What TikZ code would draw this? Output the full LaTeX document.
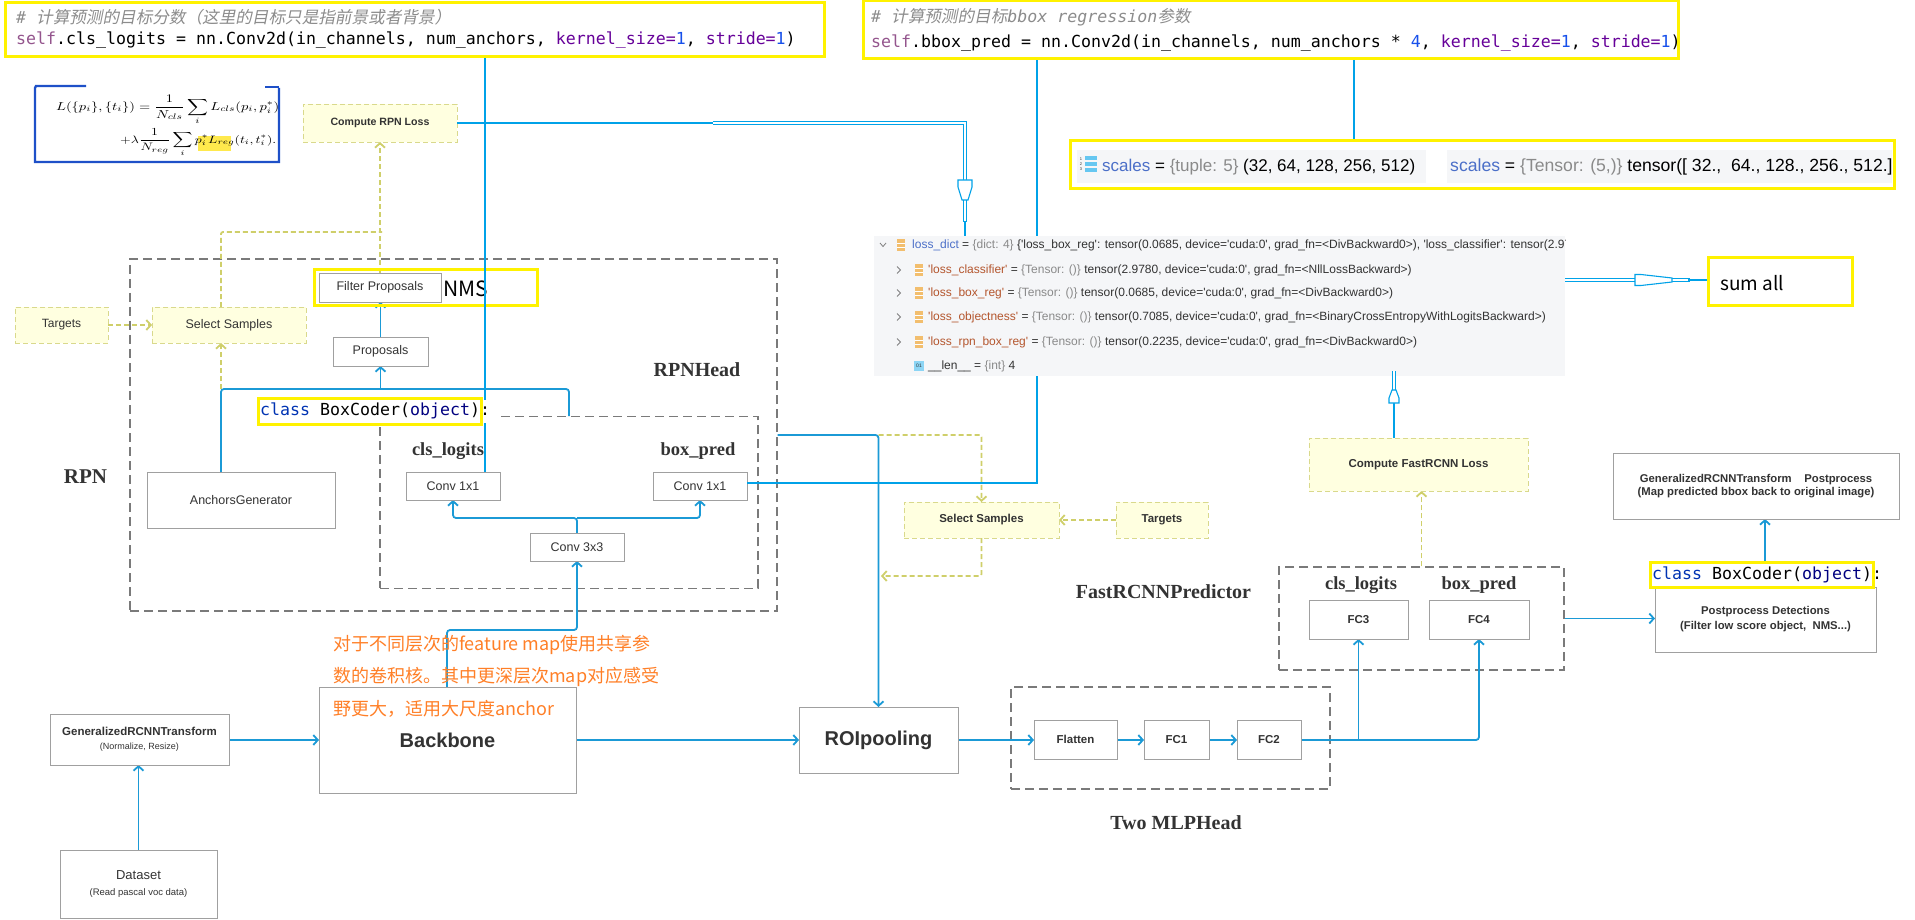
\documentclass[tikz,border=0pt]{standalone}
\usepackage{fontspec}
\setmainfont{Liberation Serif}
\setsansfont{Liberation Sans}
\setmonofont{DejaVu Sans Mono}
\newfontfamily\cjk{Noto Sans CJK SC}
\newfontfamily\cjkit{Noto Sans CJK SC}[FakeSlant=0.2]
\usetikzlibrary{arrows.meta}
\definecolor{pblue}{HTML}{00A2E8}
\definecolor{dblue}{HTML}{1B9AD6}
\definecolor{fblue}{HTML}{1E50C8}
\definecolor{pyel}{HTML}{FFF200}
\definecolor{oliveA}{HTML}{CFCF6A}
\definecolor{oliveB}{HTML}{D9D98C}
\definecolor{lyel}{HTML}{FFFFE0}
\definecolor{boxgray}{HTML}{A0A0A0}
\definecolor{dashgray}{HTML}{7A7A7A}
\definecolor{txt}{HTML}{333333}
\definecolor{orangeT}{HTML}{FF7F27}
\definecolor{cself}{HTML}{94558D}
\definecolor{ckw}{HTML}{660099}
\definecolor{cnum}{HTML}{1750EB}
\definecolor{ccom}{HTML}{8C8C8C}
\definecolor{ckey}{HTML}{0033B3}
\definecolor{cobj}{HTML}{000080}
\definecolor{vblue}{HTML}{4B6FC8}
\definecolor{gtxt}{HTML}{8A8A8A}
\definecolor{keyc}{HTML}{B4562E}
\definecolor{panel}{HTML}{F5F6F8}
\definecolor{iconc}{HTML}{F2BE6E}
\definecolor{hlyel}{HTML}{FFE94D}
\newcommand\q{\textquotesingle}
\newcommand\gt[1]{{\color{gtxt}#1}}
\newcommand\kt[1]{{\color{keyc}#1}}
\tikzset{
  blk/.style={draw=boxgray, line width=0.9pt, fill=white, text=txt, inner sep=0pt, align=center, font=\sffamily\fontsize{12.5}{15}\selectfont},
  blkb/.style={blk, font=\sffamily\bfseries\fontsize{11.5}{14}\selectfont},
  ybox/.style={draw=oliveB, dash pattern=on 5pt off 3pt, line width=0.9pt, fill=lyel, text=txt, inner sep=0pt, align=center},
  grp/.style={draw=dashgray, line width=1.3pt, dash pattern=on 9pt off 5pt, inner sep=0pt},
  conn/.style={draw=dblue, line width=1.8pt, rounded corners=3pt},
  arr/.style={conn, -{Straight Barb[length=4.5pt,width=10pt]}},
  oconn/.style={draw=oliveA, line width=1.8pt, dash pattern=on 5pt off 3pt, rounded corners=2pt},
  oarr/.style={oconn, -{Straight Barb[length=4.5pt,width=10pt]}},
  paint/.style={draw=pblue, line width=2.6pt},
  hl/.style={draw=pyel, line width=3pt, inner sep=0pt},
  lbl/.style={font=\rmfamily\bfseries\fontsize{20}{22}\selectfont, text=txt, inner sep=0pt},
  code/.style={font=\ttfamily\fontsize{16.6}{18}\selectfont, text=black, inner sep=0pt, anchor=west},
  row/.style={font=\sffamily\fontsize{12}{13}\selectfont, text=txt, inner sep=0pt, anchor=west},
  sc/.style={font=\sffamily\fontsize{17}{19}\selectfont, text=black, inner sep=0pt, anchor=west},
  dbl/.style={draw=pblue, line width=1.1pt, double=white, double distance=2.2pt},
  bulge/.style={draw=pblue, line width=1.1pt, fill=white},
  otxt/.style={font=\cjk\fontsize{18}{20}\selectfont, text=orangeT, inner sep=0pt, anchor=west},
}
\begin{document}
\begin{tikzpicture}[x=1pt,y=-1pt]
\fill[white] (0,0) rectangle (1915,920);
\useasboundingbox (0,0) rectangle (1915,920);

% ---------- group boxes ----------
\node[grp, minimum width=647pt, minimum height=352pt] (rpnbox) at (453.5,435) {};
\node[grp, minimum width=378pt, minimum height=171.5pt] (rpnhead) at (569,502.5) {};
\node[grp, minimum width=319pt, minimum height=102pt] (mlpbox) at (1170.5,738) {};
\node[grp, minimum width=285pt, minimum height=103pt] (predbox) at (1421.5,618.5) {};

% ---------- labels ----------
\node[lbl, font=\rmfamily\bfseries\fontsize{21}{23}\selectfont] (lrpn) at (85.5,477) {RPN};
\node[lbl] (lrpnhead) at (697,370) {RPNHead};
\node[lbl, font=\rmfamily\bfseries\fontsize{18.5}{20}\selectfont] (lcls1) at (448,451) {cls\_logits};
\node[lbl, font=\rmfamily\bfseries\fontsize{18.5}{20}\selectfont] (lbox1) at (698,451) {box\_pred};
\node[lbl] (lpred) at (1163.5,592) {FastRCNNPredictor};
\node[lbl] (lmlp) at (1176,823) {Two MLPHead};
\node[lbl, font=\rmfamily\bfseries\fontsize{18.5}{20}\selectfont] (lcls2) at (1361,585) {cls\_logits};
\node[lbl, font=\rmfamily\bfseries\fontsize{18.5}{20}\selectfont] (lbox2) at (1479,585) {box\_pred};

% ---------- diagram connectors ----------
\coordinate (aj) at (221,389);
\draw[conn] (221,0 |- 0,472) -- (aj) -- (569,389) -- (rpnhead.north);
\draw[arr] (380.5,389) -- (380.5,366);
\draw[arr] (380.5,337) -- (380.5,302);
\draw[oarr] (aj) -- (221,343);
\draw[oconn] (221,307) -- (221,232) -- (382,232);
\draw[oarr] (380,273) -- (380,142);
\draw[oarr] (108,325) -- (152,325);

\draw[arr] (447,687) -- (447,630) -- (577,630) -- (577,561);
\draw[arr] (577,533) -- (577,518) -- (453,518) -- (453,500);
\draw[arr] (577,518) -- (700,518) -- (700,500);

\draw[arr] (rpnbox.east) -- (878.5,435) -- (878.5,707);
\draw[oarr] (878.5,435) -- (981.5,435) -- (981.5,502);
\draw[oarr] (981.5,538) -- (981.5,576) -- (881,576);
\draw[oarr] (1116,520) -- (1059,520);

\draw[arr] (138.5,850) -- (138.5,765);
\draw[arr] (229,740) -- (319,740);
\draw[arr] (576,740) -- (799,740);
\draw[arr] (958,740) -- (1034,740);
\draw[arr] (1117,740) -- (1144,740);
\draw[arr] (1209,740) -- (1237,740);
\draw[arr] (1301,740) -- (1479,740) -- (1479,639);
\draw[arr] (1358.5,740) -- (1358.5,639);
\draw[arr] (predbox.east) -- (1655,618.5);
\draw[oarr] (predbox.north) -- (1421.5,491);
\draw[arr] (1765,562) -- (1765,519);

% ---------- nodes ----------
\node[ybox, font=\sffamily\bfseries\fontsize{10.6}{12}\selectfont, minimum width=154pt, minimum height=38pt] (rpnloss) at (380,123) {Compute RPN Loss};
\node[ybox, font=\sffamily\fontsize{12}{14}\selectfont, minimum width=93pt, minimum height=36pt] (targets1) at (61.5,325) {Targets};
\node[ybox, font=\sffamily\fontsize{12.5}{14}\selectfont, minimum width=154pt, minimum height=36pt] (sel1) at (229,325) {Select Samples};
\node[hl, minimum width=223pt, minimum height=35pt] (nms) at (425.5,287.5) {};
\node[blk, minimum width=122pt, minimum height=29pt] (filter) at (380,287.5) {Filter Proposals};
\node[inner sep=0pt, anchor=west, font=\cjk\fontsize{21}{23}\selectfont, text=black] (nmstxt) at (443,289) {NMS};
\node[blk, minimum width=95pt, minimum height=29pt] (props) at (380.5,351.5) {Proposals};
\node[blk, minimum width=188pt, minimum height=56pt] (anchors) at (241,500.2) {AnchorsGenerator};
\node[blk, minimum width=94pt, minimum height=28pt] (conv1) at (453,486) {Conv 1x1};
\node[blk, minimum width=94pt, minimum height=28pt] (conv2) at (700,486) {Conv 1x1};
\node[blk, minimum width=94pt, minimum height=28pt] (conv3) at (577,547) {Conv 3x3};
\node[blk, minimum width=257pt, minimum height=106pt, font=\sffamily\bfseries\fontsize{20}{22}\selectfont] (backbone) at (447.5,740) {Backbone};
\node[blk, minimum width=179pt, minimum height=51pt] (transform) at (139.5,739.5) {{\bfseries\fontsize{11.5}{13}\selectfont GeneralizedRCNNTransform}\\[-1pt]{\fontsize{9}{11}\selectfont (Normalize, Resize)}};
\node[blk, minimum width=157pt, minimum height=68pt] (dataset) at (138.5,884) {{\fontsize{13}{15}\selectfont Dataset}\\[1pt]{\fontsize{9.5}{11}\selectfont (Read pascal voc data)}};
\node[blk, minimum width=159pt, minimum height=66pt, font=\sffamily\bfseries\fontsize{20}{22}\selectfont] (roi) at (878.5,740) {ROIpooling};
\node[blkb, minimum width=83pt, minimum height=39pt] (flatten) at (1075.5,739.5) {Flatten};
\node[blkb, minimum width=65pt, minimum height=39pt] (fc1) at (1176.5,739.5) {FC1};
\node[blkb, minimum width=64pt, minimum height=39pt] (fc2) at (1269,739.5) {FC2};
\node[blkb, minimum width=99pt, minimum height=39pt] (fc3) at (1358.5,619.5) {FC3};
\node[blkb, minimum width=100pt, minimum height=39pt] (fc4) at (1479,619.5) {FC4};
\node[ybox, font=\sffamily\bfseries\fontsize{11.5}{13}\selectfont, minimum width=219pt, minimum height=53pt] (fastloss) at (1418.5,464.5) {Compute FastRCNN Loss};
\node[ybox, font=\sffamily\bfseries\fontsize{11.5}{13}\selectfont, minimum width=155pt, minimum height=36pt] (sel2) at (981.5,520) {Select Samples};
\node[ybox, font=\sffamily\bfseries\fontsize{11.5}{13}\selectfont, minimum width=92pt, minimum height=36pt] (targets2) at (1162,520) {Targets};
\node[blk, minimum width=221pt, minimum height=65pt, font=\sffamily\bfseries\fontsize{11.3}{15}\selectfont] (postdet) at (1765.5,619.5) {Postprocess Detections\\(Filter low score object,\ \ NMS...)};
\node[blk, minimum width=286pt, minimum height=66pt, font=\sffamily\bfseries\fontsize{11.3}{13.5}\selectfont] (transpost) at (1756,486) {GeneralizedRCNNTransform\ \ \ \ Postprocess\\(Map predicted bbox back to original image)};

% BoxCoder boxes
\node[hl, fill=white, minimum width=223pt, minimum height=26pt] (bc1) at (369.5,411) {};
\node[hl, fill=white, minimum width=223pt, minimum height=25pt] (bc2) at (1761.5,574.5) {};
\node[code] (bc2t) at (1652,575) {{\color{ckey}class} BoxCoder({\color{cobj}object}):};

% orange note
\node[otxt] (o1) at (333,645) {对于不同层次的feature map使用共享参};
\node[otxt] (o2) at (333,677) {数的卷积核。其中更深层次map对应感受};
\node[otxt] (o3) at (333,709) {野更大，适用大尺度anchor};

% ---------- code boxes ----------
\node[hl, fill=white, minimum width=819pt, minimum height=54pt] (codeL) at (414.5,30) {};
\node[code, text=ccom] (cl1) at (16,17) {{\itshape\#} {\cjkit 计算预测的目标分数（这里的目标只是指前景或者背景）}};
\node[code] (cl2) at (16,40) {{\color{cself}self}.cls\_logits = nn.Conv2d(in\_channels, num\_anchors, {\color{ckw}kernel\_size=}{\color{cnum}1}, {\color{ckw}stride=}{\color{cnum}1})};
\node[hl, fill=white, minimum width=815pt, minimum height=58pt] (codeR) at (1270.5,30) {};
\node[code, text=ccom] (cr1) at (871,17) {{\itshape\#} {\cjkit 计算预测的目标}{\itshape bbox regression}{\cjkit 参数}};
\node[code] (cr2) at (871,43) {{\color{cself}self}.bbox\_pred = nn.Conv2d(in\_channels, num\_anchors * {\color{cnum}4}, {\color{ckw}kernel\_size=}{\color{cnum}1}, {\color{ckw}stride=}{\color{cnum}1})};

% formula
\fill[hlyel] (198,136) rectangle (231,151);
\node[inner sep=0pt, anchor=west] (f1) at (56,110) {\resizebox*{223pt}{30pt}{$\displaystyle L(\{p_i\},\{t_i\})=\frac{1}{N_{cls}}\sum_i L_{cls}(p_i,p_i^*)$}};
\node[inner sep=0pt, anchor=west] (f2) at (120,143) {\resizebox*{156pt}{28pt}{$\displaystyle +\lambda\frac{1}{N_{reg}}\sum_i p_i^* L_{reg}(t_i,t_i^*).$}};
\draw[fblue, line width=2.4pt] (86,86) -- (36,86) -- (35,88) -- (35,162) -- (279,162) -- (279,88);
\draw[fblue, line width=2.4pt] (265,87) -- (279,87);

% ---------- paint lines ----------
\draw[paint] (485,0 |- codeL.south) -- (485,0 |- conv1.north);
\draw[paint] (1037,0 |- codeR.south) -- (1037,483) -- (conv2.east |- 0,483);
\draw[paint] (rpnloss.east) -- (713,123);
\draw[dbl] (713,123) -- (965,123) -- (965,222);
\draw[draw=pblue, line width=2pt] (965,221) -- (965,236);
\draw[bulge] (958,180) -- (972,180) -- (972,187) -- (968,200) -- (962,200) -- (958,187) -- cycle;

% BoxCoder 1 text over the line
\fill[white] (482.5,400) rectangle (497,423);
\node[code] (bc1t) at (260,411) {{\color{ckey}class} BoxCoder({\color{cobj}object}):};

% ---------- scales box ----------
\node[hl, fill=white, minimum width=824pt, minimum height=48pt] (scales) at (1482,165) {};
\draw[paint] (1354,0 |- codeR.south) -- (1354,0 |- scales.north);
\fill[panel] (1077,150) rectangle (1426,183);
\fill[panel] (1447,150) rectangle (1892,183);
\foreach \yy in {158,164,170} {\fill[pblue!60] (1085,\yy-2) rectangle (1097,\yy+2);}
\node[inner sep=0pt, font=\sffamily\fontsize{4}{5}\selectfont, text=txt, align=center] at (1081,164) {1\\2\\3};
\node[sc] (s1) at (1102,167) {{\color{vblue}scales} = \gt{\{tuple: 5\}} (32, 64, 128, 256, 512)};
\begin{scope}
\clip (1447,150) rectangle (1891,183);
\node[sc, font=\sffamily\fontsize{17.6}{19}\selectfont] (s2) at (1450,167) {{\color{vblue}scales} = \gt{\{Tensor: (5,)\}} tensor([ 32.,\ \ 64., 128., 256., 512.]};
\end{scope}

% ---------- loss dict panel ----------
\node[fill=panel, inner sep=0pt, minimum width=691pt, minimum height=140pt] (lossdict) at (1219.5,306) {};
\begin{scope}
\clip (874,236) rectangle (1565,376);
\draw[gray, line width=0.8pt] (880,243) -- (883,246.5) -- (886,243);
\foreach \yy in {270,293,317,342} {\draw[gray, line width=0.8pt] (897,\yy-3.5) -- (900.5,\yy) -- (897,\yy+3.5);}
\foreach \xx/\yy in {901/245,919/270,919/293,919/317,919/342} {
  \fill[iconc] (\xx-4,\yy-6) rectangle (\xx+4,\yy+6);
  \draw[white, line width=0.8pt] (\xx-4,\yy-2) -- (\xx+4,\yy-2) (\xx-4,\yy+2) -- (\xx+4,\yy+2);
}
\fill[pblue!45] (914,361) rectangle (924,371);
\node[inner sep=0pt, font=\sffamily\fontsize{5}{6}\selectfont, text=txt] at (919,366) {01};
\node[row] (r0) at (912,245) {{\color{vblue}loss\_dict} = \gt{\{dict: 4\}} \{\q loss\_box\_reg\q: tensor(0.0685, device=\q cuda:0\q, grad\_fn=<DivBackward0>), \q loss\_classifier\q: tensor(2.9780, device=\q cuda:0\q)\}};
\node[row] (r1) at (928,270) {\kt{\q loss\_classifier\q} = \gt{\{Tensor: ()\}} tensor(2.9780, device=\q cuda:0\q, grad\_fn=<NllLossBackward>)};
\node[row] (r2) at (928,293) {\kt{\q loss\_box\_reg\q} = \gt{\{Tensor: ()\}} tensor(0.0685, device=\q cuda:0\q, grad\_fn=<DivBackward0>)};
\node[row] (r3) at (928,317) {\kt{\q loss\_objectness\q} = \gt{\{Tensor: ()\}} tensor(0.7085, device=\q cuda:0\q, grad\_fn=<BinaryCrossEntropyWithLogitsBackward>)};
\node[row] (r4) at (928,342) {\kt{\q loss\_rpn\_box\_reg\q} = \gt{\{Tensor: ()\}} tensor(0.2235, device=\q cuda:0\q, grad\_fn=<DivBackward0>)};
\node[row] (r5) at (928,366) {\_\_len\_\_ = \gt{\{int\}} 4};
\end{scope}

% ---------- sum all ----------
\node[hl, fill=white, minimum width=144pt, minimum height=47pt] (sumall) at (1780,281.5) {};
\node[inner sep=0pt, anchor=west, font=\cjk\fontsize{19}{21}\selectfont, text=black] (sumt) at (1720,283) {sum all};
\draw[dbl] (lossdict.east |- 0,280) -- (1690,280);
\draw[draw=pblue, line width=2pt] (1688,280) -- (sumall.west |- 0,280);
\draw[bulge] (1635,274.5) -- (1641,274.5) -- (1672,278) -- (1672,282) -- (1641,285.5) -- (1635,285.5) -- cycle;

% FastRCNN loss up into loss dict
\draw[paint] (1394,0 |- fastloss.north) -- (1394,403);
\draw[dbl] (1394,390) -- (1394,371);
\draw[bulge] (1389,403) -- (1399,403) -- (1399,398) -- (1396,390) -- (1392,390) -- (1389,398) -- cycle;
\end{tikzpicture}
\end{document}
